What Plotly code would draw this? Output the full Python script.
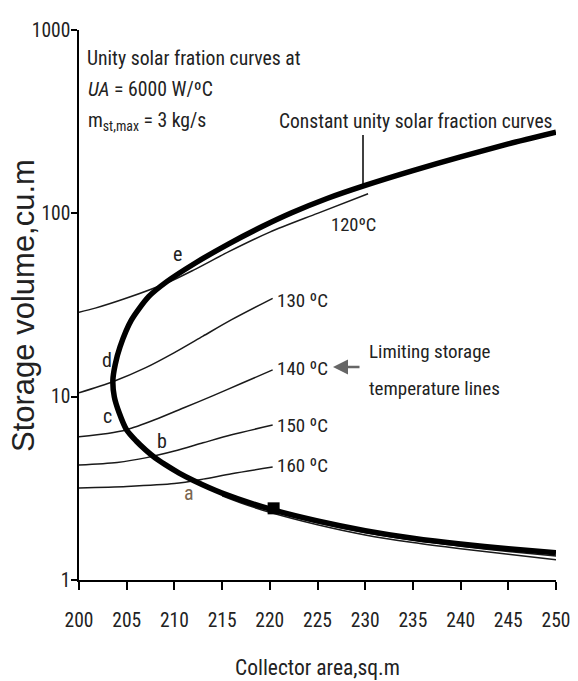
import plotly.graph_objects as go

# ---------------- data ----------------
# Main (thick) constant unity solar fraction curve: collector area (m2) vs storage volume (m3)
main_x = [250, 245, 240, 235, 230, 225, 220, 215, 212, 210.5, 209, 208, 207, 206, 205, 204.2, 203.7,
          203.55, 203.8, 204.3, 205.5, 207.3, 209.2, 212.2, 215.7, 219.2, 222.3, 226, 230, 235, 240,
          245, 250]
main_y = [1.41, 1.48, 1.57, 1.69, 1.86, 2.1, 2.44, 2.98, 3.49, 3.83, 4.27, 4.63, 5.11, 5.73, 6.58, 8.2,
          10, 12.3, 15, 18.7, 26.2, 35.1, 42.4, 53.6, 68.2, 84.7, 100.7, 120.5, 142, 171, 203,
          239, 277]

# Thin companion curves in the lower bundle
bund1_x = [213, 215, 220, 225, 230, 235, 240, 245, 250]
bund1_y = [3.3, 2.93, 2.39, 2.05, 1.81, 1.65, 1.53, 1.43, 1.35]
bund2_x = [215, 217, 220, 225, 230, 235, 240, 245, 250]
bund2_y = [2.88, 2.63, 2.34, 2.0, 1.76, 1.6, 1.48, 1.38, 1.29]

# Limiting storage temperature lines
t120_x = [200, 201.7, 205, 209.2, 212, 215.7, 220, 225, 230.3]
t120_y = [28.9, 30.4, 34.5, 41.7, 49, 61.8, 79, 100, 128]
t130_x = [200, 203.6, 207, 210, 213, 216, 220.3]
t130_y = [10.5, 12.1, 14.4, 17.4, 21.4, 26.3, 34.4]
t140_x = [200, 203, 205, 208, 211, 214, 217, 220.3]
t140_y = [6.05, 6.3, 6.6, 7.5, 8.7, 10.1, 11.8, 14.0]
t150_x = [200, 204, 207.1, 210, 213, 216, 220.3]
t150_y = [4.24, 4.38, 4.65, 5.05, 5.6, 6.2, 7.0]
t160_x = [200, 205, 210, 213, 216, 220.3]
t160_y = [3.18, 3.24, 3.36, 3.55, 3.8, 4.13]

# Design point marker
pt_x = [220.4]
pt_y = [2.46]

x_ticks = [200, 205, 210, 215, 220, 225, 230, 235, 240, 245, 250]
y_ticks = [1, 10, 100, 1000]
y_tick_text = ["1", "10", "100", "1000"]

# ---------------- figure ----------------
NARROW = "Liberation Sans Narrow, Arial Narrow, Roboto Condensed, Liberation Sans, Arial, sans-serif"
REG = "Liberation Sans, Arial, sans-serif"
INK = "#222222"

fig = go.Figure()

thin = dict(color="#1a1a1a", width=1.5, shape="spline", smoothing=0.8)
for xs, ys in [(t120_x, t120_y), (t130_x, t130_y), (t140_x, t140_y), (t150_x, t150_y),
               (t160_x, t160_y), (bund1_x, bund1_y), (bund2_x, bund2_y)]:
    fig.add_trace(go.Scatter(x=xs, y=ys, mode="lines", line=thin, hoverinfo="skip", showlegend=False))

fig.add_trace(go.Scatter(x=main_x, y=main_y, mode="lines",
                         line=dict(color="black", width=5.5, shape="spline", smoothing=0.7),
                         showlegend=False))
fig.add_trace(go.Scatter(x=pt_x, y=pt_y, mode="markers",
                         marker=dict(symbol="square", size=12, color="black"), showlegend=False))

# plot area in pixels: x 79..556, y 30..580
L, R, T, B = 79, 556, 30, 580


def px(x):
    return (x - L) / (R - L)


def py(y):
    return (B - y) / (B - T)


ann = []


def txt(text, x, y, size=19, anchor="left", family=NARROW, color=INK, angle=0):
    ann.append(dict(text=text, x=px(x), y=py(y), xref="paper", yref="paper", showarrow=False,
                    xanchor=anchor, yanchor="middle", textangle=angle,
                    font=dict(size=size, family=family, color=color)))


txt("Unity solar fration curves at", 85, 58, 19.7)
txt("<i>UA</i> = 6000 W/ºC", 86, 89, 19.7)
txt("m<sub>st,max</sub> = 3 kg/s", 86, 122, 19.7)
txt("Constant unity solar fraction curves", 277, 122, 19.5)
txt("120ºC", 329, 225, 18.5)
txt("130 ºC", 275, 300, 19)
txt("140 ºC", 275, 368, 19)
txt("150 ºC", 275, 425, 19)
txt("160 ºC", 275, 465, 19)
txt("Limiting storage", 367, 351, 19)
txt("temperature lines", 367, 388, 19)
txt("e", 177, 254, 20, "center")
txt("d", 107, 360, 20, "center")
txt("c", 107, 416, 20, "center")
txt("b", 162, 441, 20, "center")
txt("a", 189, 493, 20, "center", color="#7a6650")
# axis titles
txt("Collector area,sq.m", 317, 667, 21.5, "center")
txt("Storage volume,cu.m", 23, 306, 31, "center", family=REG, angle=-90)

# arrow pointing at the 140 ºC label
ann.append(dict(x=px(333), y=py(367), ax=28, ay=0, xref="paper", yref="paper",
                axref="pixel", ayref="pixel", showarrow=True, arrowhead=2, arrowsize=1.2,
                arrowwidth=2.5, arrowcolor="#666666", text=""))

fig.update_layout(
    width=578, height=681,
    margin=dict(l=L, r=578 - R, t=T, b=681 - B),
    paper_bgcolor="white", plot_bgcolor="white",
    annotations=ann,
    shapes=[dict(type="line", xref="paper", yref="paper", x0=px(363), x1=px(363),
                 y0=py(135), y1=py(184), line=dict(color="black", width=1.5))],
    xaxis=dict(range=[200, 250], tickvals=x_ticks, showline=True, linecolor="black", linewidth=1.5,
               ticks="outside", ticklen=8, tickwidth=1.5, tickcolor="black", showgrid=False,
               zeroline=False, tickfont=dict(family=NARROW, size=19.5, color=INK),
               ticklabelstandoff=14, automargin=False),
    yaxis=dict(type="log", range=[0, 3], tickvals=y_ticks, ticktext=y_tick_text, showline=True,
               linecolor="black", linewidth=1.5, ticks="outside", ticklen=6, tickwidth=1.5,
               tickcolor="black", showgrid=False, zeroline=False,
               tickfont=dict(family=NARROW, size=19.5, color=INK), ticklabelstandoff=-3,
               automargin=False),
)

fig.write_html("out.html", config={"displayModeBar": False},
               post_script="document.body.style.margin='0';document.body.style.overflow='hidden';")
